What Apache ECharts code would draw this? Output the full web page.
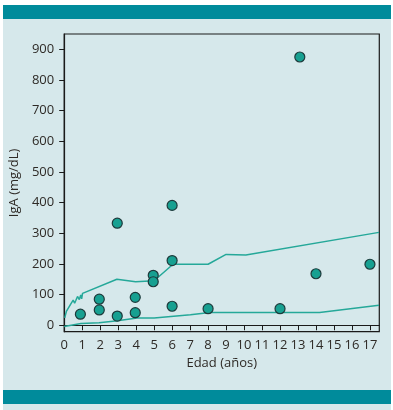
<!DOCTYPE html>
<html><head><meta charset="utf-8">
<script src="https://cdn.jsdelivr.net/npm/echarts@6/dist/echarts.min.js"></script>
<style>html,body{margin:0;padding:0;background:#fff}#c{width:393px;height:410px}</style>
</head><body><div id="c"></div>
<script>
// Data
const xTicks = [0,1,2,3,4,5,6,7,8,9,10,11,12,13,14,15,16,17];
const yTicks = [0,100,200,300,400,500,600,700,800,900];
const pointAge = [0.9, 1.95, 1.95, 2.95, 2.95, 3.95, 3.95, 4.95, 4.95, 6.0, 6.0, 6.0, 8.0, 12.0, 13.1, 14.0, 17.0];
const pointIgA = [36, 85, 50, 333, 30, 91, 41, 163, 142, 391, 211, 62, 54, 54, 875, 168, 199];
const upperAge = [0.03, 0.12, 0.22, 0.37, 0.5, 0.58, 0.64, 0.74, 0.84, 0.92, 0.97, 1.02, 2.93, 3.97, 5.0, 6.05, 8.0, 9.0, 10.1, 17.5];
const upperIgA = [24, 45, 55, 70, 82, 72, 80, 94, 84, 99, 86, 104, 150, 142, 145, 199, 199, 231, 229, 303];
const lowerAge = [0.0, 0.93, 1.94, 2.96, 4.05, 5.0, 7.02, 7.08, 8.1, 14.2, 17.5];
const lowerIgA = [-4, 6, 8, 15, 24, 24, 34, 39, 42, 42, 65];

const zip = (a, b) => a.map((v, i) => [v, b[i]]);
const FONT = 'Open Sans';
const TXT = '#2e2a26';
const chart = echarts.init(document.getElementById('c'), null, {renderer: 'canvas'});
chart.setOption({
  backgroundColor: '#ffffff',
  animation: false,
  graphic: [
    {type: 'rect', z: -10, silent: true, shape: {x: 3, y: 5, width: 388, height: 405}, style: {fill: '#d6e8eb'}},
    {type: 'rect', z: -9, silent: true, shape: {x: 3, y: 5, width: 388, height: 14}, style: {fill: '#008b9b'}},
    {type: 'rect', z: -9, silent: true, shape: {x: 3, y: 390, width: 388, height: 14}, style: {fill: '#008b9b'}}
  ],
  grid: {left: 63.3, top: 34, right: 13.7, bottom: 78.3, show: true, borderColor: '#1a1a1a', borderWidth: 1.2, backgroundColor: 'transparent'},
  xAxis: {
    type: 'value', min: 0, max: 17.52,
    name: 'Edad (años)', nameLocation: 'middle', nameGap: 25,
    nameTextStyle: {fontFamily: FONT, fontSize: 13, color: TXT},
    axisLine: {show: true, lineStyle: {color: '#1a1a1a', width: 1.2}},
    axisTick: {show: true, length: 5, customValues: xTicks, lineStyle: {color: '#1a1a1a'}},
    axisLabel: {customValues: xTicks, margin: 7, fontFamily: FONT, fontSize: 13, color: TXT, hideOverlap: false},
    splitLine: {show: false}
  },
  yAxis: {
    type: 'value', min: -21, max: 950,
    name: 'IgA (mg/dL)', nameLocation: 'middle', nameGap: 42, nameRotate: 90,
    nameTextStyle: {fontFamily: FONT, fontSize: 13, color: TXT},
    axisLine: {show: true, lineStyle: {color: '#1a1a1a', width: 1.2}},
    axisTick: {show: true, length: 5, customValues: yTicks, lineStyle: {color: '#1a1a1a'}},
    axisLabel: {customValues: yTicks, margin: 10, fontFamily: FONT, fontSize: 13, color: TXT},
    splitLine: {show: false}
  },
  series: [
    {type: 'line', data: zip(upperAge, upperIgA), symbol: 'none', lineStyle: {color: '#25a899', width: 1.5}, z: 2},
    {type: 'line', data: zip(lowerAge, lowerIgA), symbol: 'none', lineStyle: {color: '#25a899', width: 1.5}, z: 2},
    {type: 'scatter', data: zip(pointAge, pointIgA), symbolSize: 10,
     itemStyle: {color: '#17a091', borderColor: '#1d3a3b', borderWidth: 1.2, opacity: 1}, z: 3}
  ]
});
</script></body></html>
